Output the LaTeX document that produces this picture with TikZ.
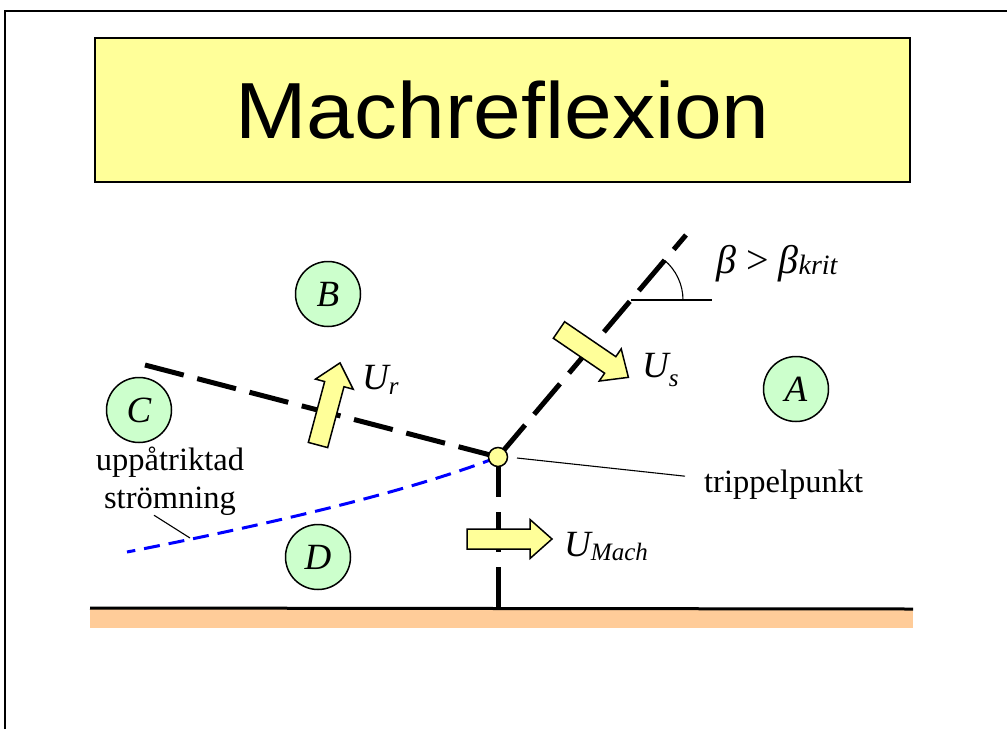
\documentclass[tikz,border=0pt]{standalone}
\usepackage{fontspec}
\setmainfont{Liberation Serif}
\newfontfamily\titlefont{Liberation Sans}
\usetikzlibrary{calc}
\definecolor{lightyellow}{HTML}{FFFF99}
\definecolor{lightgreen}{HTML}{CCFFCC}
\definecolor{groundorange}{HTML}{FFCC99}
\tikzset{
  shock/.style={line width=5pt, dash pattern=on 40pt off 14pt},
  region/.style={circle, draw, line width=1.5pt, fill=lightgreen, minimum size=65pt, inner sep=0pt, font=\fontsize{37}{37}\selectfont\itshape},
  blockarrow/.style={fill=lightyellow, draw=black, line width=1.5pt},
  lbl/.style={inner sep=0pt, font=\fontsize{32.5}{36}\selectfont},
  sym/.style={inner sep=0pt, anchor=base west, font=\fontsize{37}{40}\selectfont\itshape},
  leader/.style={line width=1.1pt},
  slip/.style={blue, line width=3pt, dash pattern=on 16pt off 9pt},
}
\newcommand\blockarr[4]{%
  \begin{scope}[shift={(#1,#2)},rotate=#3]
    \filldraw[blockarrow] (0,-10) -- ({#4-22},-10) -- ({#4-22},-19.5) -- (#4,0) -- ({#4-22},19.5) -- ({#4-22},10) -- (0,10) -- cycle;
  \end{scope}}
\begin{document}
\begin{tikzpicture}[x=1pt, y=-1pt]
\useasboundingbox (0,0) rectangle (1007,729);
% frame
\draw[line width=2pt] (5,729) -- (5,11) -- (1007,11);
% title
\node[draw, line width=1.5pt, fill=lightyellow, minimum width=815pt, minimum height=144pt, inner sep=0pt, font=\titlefont] (title) at (502.5,110) {\scalebox{1.1}[1.02]{\fontsize{78}{80}\selectfont Machreflexion}};
% ground
\fill[groundorange] (90,609) rectangle (913,628);
\draw[line width=3pt] (90,608) -- (913,609);
% key points
\coordinate (tpc) at (498,457);
\coordinate (rtop) at (145,365);
\coordinate (itop) at (686,235);
\coordinate (gnd) at (498,607);
\coordinate (slend) at (127,552);
\coordinate (sl) at (190,538);
% slip line
\draw[slip] (tpc) .. controls (400,495) and (250,528) .. (slend);
% shocks
\draw[shock] (rtop) -- (tpc);
\draw[shock, dash phase=21pt] (itop) -- (tpc);
\draw[shock, dash pattern=on 40pt off 15pt] (tpc) -- (gnd);
% triple point
\node[circle, draw, fill=lightyellow, line width=1.5pt, minimum size=19pt, inner sep=0pt] (tp) at (tpc) {};
% angle
\draw[leader] (631,300) -- (712,300);
\draw[leader] (683,300) arc[start angle=0, end angle=-50, radius=52];
% regions
\node[region] (A) at (796,389) {A};
\node[region] (B) at (328,294) {B};
\node[region] (C) at (139,410) {C};
\node[region] (D) at (318,557) {D};
% block arrows
\blockarr{318}{445}{75}{85}
\blockarr{559}{330}{-34.3}{84}
\blockarr{467}{539}{0}{85}
% labels
\node[sym] (Ur) at (362,389) {U\raisebox{-5pt}{\fontsize{25}{25}\selectfont r}};
\node[sym] (Us) at (642,377) {U\raisebox{-9pt}{\fontsize{25}{25}\selectfont s}};
\node[sym] (Um) at (564,556) {U\raisebox{-4pt}{\fontsize{25}{25}\selectfont Mach}};
\node[inner sep=0pt, anchor=base west, font=\fontsize{40}{44}\selectfont] (beta) at (716,273) {\textit{β} > \textit{β}\raisebox{-1pt}{\fontsize{28}{28}\selectfont\itshape krit}};
\node[lbl, anchor=base west] (tpl) at (704,492) {trippelpunkt};
\node[lbl, anchor=base] (up1) at (170,470) {uppåtriktad};
\node[lbl, anchor=base] (up2) at (170,508) {strömning};
% leaders
\draw[leader] ($(tp.center)+(19,1)$) -- ($(tpl.west)+(-19,-8)$);
\draw[leader] ($(up2.south)+(-16,0)$) -- (sl);
\end{tikzpicture}
\end{document}
